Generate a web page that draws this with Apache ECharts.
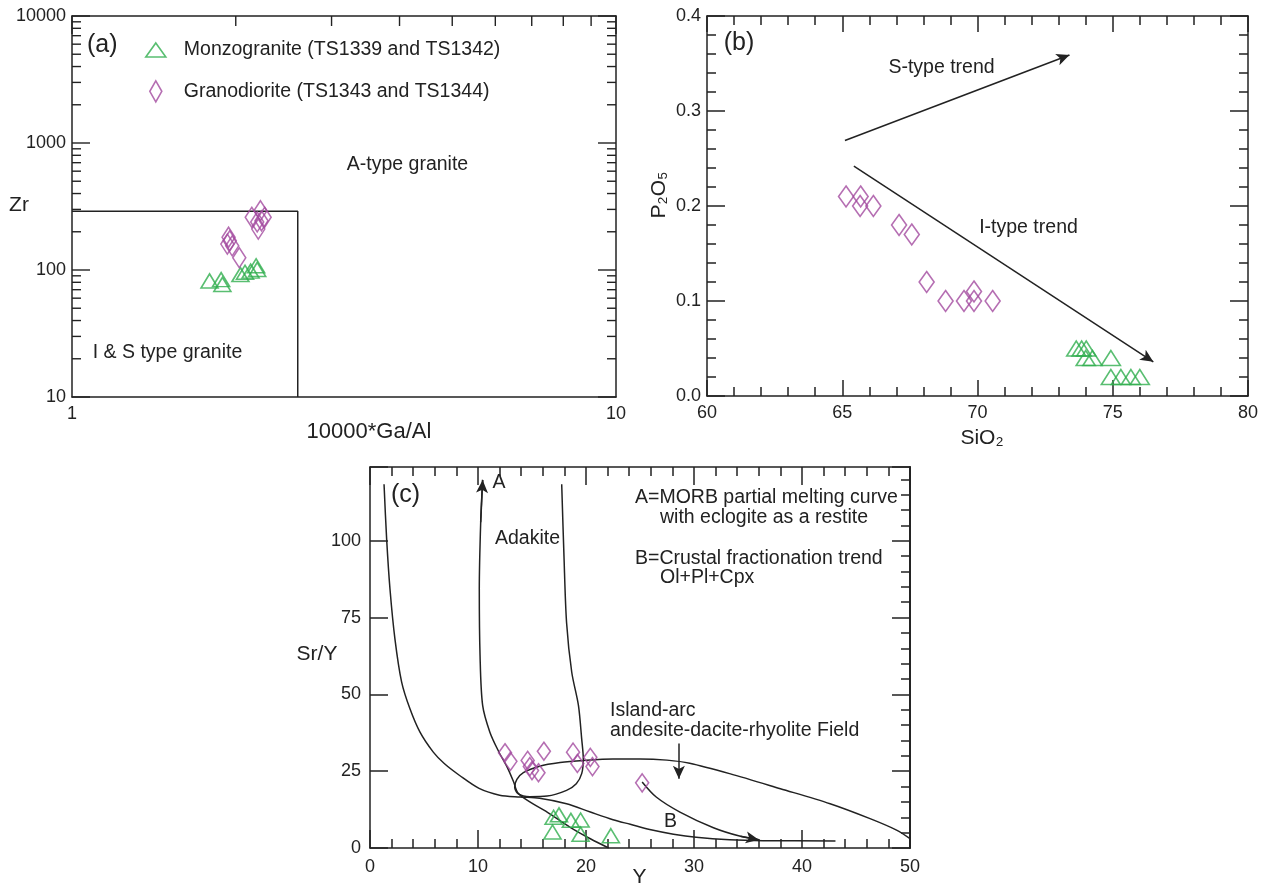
<!DOCTYPE html>
<html><head><meta charset="utf-8">
<script src="https://cdn.jsdelivr.net/npm/echarts@6/dist/echarts.min.js"></script>
<style>html,body{margin:0;padding:0;background:#fff}#chart{width:1269px;height:885px}</style>
</head><body><div id="chart"></div>
<script>
// ---------- Panel (a): Zr vs 10000*Ga/Al ----------
const gaAlMonzo = [1.79, 1.88, 1.89, 2.04, 2.08, 2.13, 2.18, 2.19];
const zrMonzo   = [82, 84, 77, 92, 96, 98, 108, 101];
const gaAlGrano = [1.94, 1.95, 1.93, 1.97, 2.03, 2.14, 2.22, 2.23, 2.20, 2.26, 2.19];
const zrGrano   = [181, 170, 160, 155, 125, 260, 293, 244, 210, 260, 239];
const boxGaAl = [1, 2.6, 2.6];
const boxZr   = [290, 290, 10];
const ticksGaAl = [1, 2, 3, 4, 5, 6, 7, 8, 9, 10];
const ticksZr = [10,20,30,40,50,60,70,80,90,100,200,300,400,500,600,700,800,900,1000,2000,3000,4000,5000,6000,7000,8000,9000,10000];

// ---------- Panel (b): P2O5 vs SiO2 ----------
const sio2Monzo = [73.65, 73.85, 74.02, 74.0, 74.25, 74.93, 74.93, 75.3, 75.67, 76.0];
const p2o5Monzo = [0.05, 0.05, 0.05, 0.04, 0.04, 0.04, 0.02, 0.02, 0.02, 0.02];
const sio2Grano = [65.14, 65.68, 65.66, 66.15, 67.1, 67.57, 68.12, 68.82, 69.5, 69.87, 69.87, 70.56];
const p2o5Grano = [0.21, 0.21, 0.20, 0.20, 0.18, 0.17, 0.12, 0.10, 0.10, 0.11, 0.10, 0.10];
const sTrend = [[65.1, 0.269], [73.4, 0.359]];
const iTrend = [[65.43, 0.242], [76.5, 0.036]];

// ---------- Panel (c): Sr/Y vs Y ----------
const yMonzo   = [17.0, 17.5, 18.6, 19.5, 16.9, 19.5, 22.3];
const srYMonzo = [10.0, 10.8, 9.0, 9.1, 5.2, 4.5, 4.0];
const yGrano   = [12.5, 13.0, 14.6, 14.8, 15.0, 15.6, 16.1, 18.8, 19.2, 20.4, 20.6, 25.2];
const srYGrano = [31.0, 28.2, 28.5, 26.5, 25.2, 24.5, 31.5, 31.2, 27.5, 29.5, 26.5, 21.2];
const curveLeft = [[1.3,118.4],[1.54,100.6],[1.85,84.3],[2.31,68],[2.93,54],[3.7,45.3],[4.63,37.7],[5.86,31.2],[6.9,27.4],[8.3,23.6],[10.1,19.4],[12.0,17.2],[13.9,16.6],[15.7,16.2],[18.2,14.4],[20.4,11.7],[22.5,9.2],[24.1,7.7],[25.9,6.0],[28.1,4.5],[30.2,3.5],[33.3,2.7],[36.4,2.4],[43.1,2.3]];
const curveA = [[22.1,0],[20.4,3.0],[18.5,6.8],[16.4,11.7],[14.8,15.0],[13.7,17.9],[13.3,21.5],[12.7,26.3],[11.9,31.5],[11.1,37.7],[10.43,46.4],[10.19,62.6],[10.12,84.3],[10.25,106],[10.43,119.8]];
const curveRight = [[17.75,118.4],[17.96,95.1],[18.2,73.4],[18.68,57.2],[19.3,46.4],[19.6,35.5],[19.75,29],[19.6,24.2],[19.1,20.9],[18.2,18.75],[16.4,16.9],[14.8,16.7],[13.7,17.7],[13.4,19.8],[13.6,22.3],[14.2,24.5],[15.7,26.6],[17.6,27.8],[19.75,28.5],[22.5,29.0],[25.0,29.0],[27.5,28.6],[29.6,27.6],[33.3,24.2],[38.0,19.3],[42.6,14.4],[46.3,9.55],[48.8,5.75],[50,3.05]];
const curveB = [[25.2,21.5],[26.5,16.6],[28.7,11.7],[31.8,6.6],[34.3,3.8],[36.0,2.7]];
const arcArrow = [[28.6,34],[28.6,22.5]];

const NAME_MZ = 'Monzogranite (TS1339 and TS1342)';
const NAME_GD = 'Granodiorite (TS1343 and TS1344)';
const GREEN = '#2fae4e';
const PURPLE = '#a24a9f';
const INK = '#222';
const FONT = "'Liberation Sans', Arial, Helvetica, sans-serif";

const zip = (a, b) => a.map((v, i) => [v, b[i]]);
const lastSeg = c => [c[c.length - 2], c[c.length - 1]];
const lineStyle = { color: INK, width: 1.5 };
const labelStyle = { fontSize: 18, color: INK, fontFamily: FONT };

function valAxis(o) {
  return Object.assign({
    type: 'value',
    axisLine: { show: true, onZero: false, lineStyle },
    axisTick: { show: true, inside: true, length: 18, lineStyle },
    minorTick: { show: true, splitNumber: 5, length: 9, lineStyle },
    splitLine: { show: false }, minorSplitLine: { show: false },
    axisLabel: Object.assign({ margin: 8 }, labelStyle)
  }, o);
}

const chart = echarts.init(document.getElementById('chart'), null, { renderer: 'canvas' });

const isDecade = v => Math.abs(Math.log10(v) - Math.round(Math.log10(v))) < 1e-9;
const scatterStyle = c => ({ color: 'rgba(0,0,0,0)', borderColor: c, borderWidth: 1.6 });

const texts = [
  ['(a)', 87, 45, 'left', 25],
  ['A-type granite', 407.5, 165, 'center', 19.5],
  ['I & S type granite', 167.5, 353, 'center', 19.5],
  ['Zr', 19, 205, 'center', 21],
  ['10000*Ga/Al', 369, 432, 'center', 22],
  ['(b)', 739, 43, 'center', 25],
  ['S-type trend', 941.5, 68, 'center', 19.5],
  ['I-type trend', 1028.5, 228, 'center', 19.5],
  ['SiO\u2082', 982, 438, 'center', 21],
  ['(c)', 405.6, 495, 'center', 25],
  ['A', 499, 483, 'center', 19.5],
  ['Adakite', 527.5, 539, 'center', 19.5],
  ['A=MORB partial melting curve', 635, 498, 'left', 19.5],
  ['with eclogite as a restite', 660, 518, 'left', 19.5],
  ['B=Crustal fractionation trend', 635, 559, 'left', 19.5],
  ['Ol+Pl+Cpx', 660, 578, 'left', 19.5],
  ['Island-arc', 610, 711, 'left', 19.5],
  ['andesite-dacite-rhyolite Field', 610, 731, 'left', 19.5],
  ['B', 670.6, 822, 'center', 19.5],
  ['Sr/Y', 317, 654, 'center', 21],
  ['Y', 639.4, 877, 'center', 21]
];
const graphic = texts.map(t => ({
  type: 'text', x: t[1], y: t[2], silent: true,
  style: { text: t[0], fill: INK, font: t[4] + 'px ' + FONT, textAlign: t[3], textVerticalAlign: 'middle' }
}));
graphic.push({
  type: 'text', x: 659, y: 195, rotation: Math.PI / 2, silent: true,
  style: { text: 'P\u2082O\u2085', fill: INK, font: '21px ' + FONT, textAlign: 'center', textVerticalAlign: 'middle' }
});

const arrowSize = [[1, 1], [9, 13]];
const arrowLines = (xi, yi, segs) => ({
  type: 'lines', coordinateSystem: 'cartesian2d', xAxisIndex: xi, yAxisIndex: yi, silent: true,
  data: segs.map(s => ({ coords: s })), symbol: ['none', 'arrow'], symbolSize: arrowSize,
  lineStyle: { color: INK, width: 1.5, opacity: 1, curveness: 0 }, z: 4
});
const curve = (data) => ({
  type: 'line', xAxisIndex: 4, yAxisIndex: 4, data, symbol: 'none', smooth: 0.3,
  lineStyle: { color: INK, width: 1.5 }, silent: true
});
const logLabel = v => String(Math.round(v));

const option = {
  backgroundColor: '#fff',
  animation: false,
  graphic,
  legend: [
    { data: [{ name: NAME_MZ, icon: 'triangle', itemStyle: scatterStyle(GREEN) }],
      left: 145, top: 39, padding: 0, itemWidth: 20, itemHeight: 14, selectedMode: false,
      textStyle: { fontSize: 19.5, fontFamily: FONT, color: INK, lineHeight: 22, padding: [0, 0, 0, 13] } },
    { data: [{ name: NAME_GD, icon: 'diamond', itemStyle: scatterStyle(PURPLE) }],
      left: 149, top: 80, padding: 0, itemWidth: 12, itemHeight: 21, selectedMode: false,
      textStyle: { fontSize: 19.5, fontFamily: FONT, color: INK, lineHeight: 22, padding: [0, 0, 0, 17] } }
  ],
  grid: [
    { left: 72, top: 16, width: 544, height: 381 },
    { left: 707, top: 16, width: 541, height: 380 },
    { left: 370, top: 467, width: 540, height: 381 }
  ],
  xAxis: [
    { type: 'log', logBase: 10, gridIndex: 0, min: 1, max: 10,
      axisLine: { show: true, onZero: false, lineStyle }, axisTick: { show: false }, splitLine: { show: false },
      axisLabel: Object.assign({ margin: 8, formatter: logLabel }, labelStyle) },
    { type: 'log', logBase: 10, gridIndex: 0, min: 1, max: 10, position: 'top',
      axisLine: { show: true, onZero: false, lineStyle }, axisTick: { show: false }, splitLine: { show: false },
      axisLabel: { show: false } },
    valAxis({ gridIndex: 1, min: 60, max: 80, interval: 5, axisTick: { show: true, inside: true, length: 16, lineStyle } }),
    valAxis({ gridIndex: 1, min: 60, max: 80, interval: 5, position: 'top', axisLabel: { show: false },
      axisTick: { show: true, inside: true, length: 16, lineStyle } }),
    valAxis({ gridIndex: 2, min: 0, max: 50, interval: 10, axisLabel: Object.assign({ margin: 10 }, labelStyle) }),
    valAxis({ gridIndex: 2, min: 0, max: 50, interval: 10, position: 'top', axisLabel: { show: false } })
  ],
  yAxis: [
    { type: 'log', logBase: 10, gridIndex: 0, min: 10, max: 10000,
      axisLine: { show: true, onZero: false, lineStyle }, axisTick: { show: false }, splitLine: { show: false },
      axisLabel: Object.assign({ margin: 6, formatter: logLabel }, labelStyle) },
    { type: 'log', logBase: 10, gridIndex: 0, min: 10, max: 10000, position: 'right',
      axisLine: { show: true, onZero: false, lineStyle }, axisTick: { show: false }, splitLine: { show: false },
      axisLabel: { show: false } },
    valAxis({ gridIndex: 1, min: 0, max: 0.4, interval: 0.1,
      axisLabel: Object.assign({ margin: 6, formatter: v => v.toFixed(1) }, labelStyle) }),
    valAxis({ gridIndex: 1, min: 0, max: 0.4, interval: 0.1, position: 'right', axisLabel: { show: false } }),
    valAxis({ gridIndex: 2, min: 0, max: 124, interval: 25, minorTick: { show: false },
      axisLabel: Object.assign({ margin: 9, formatter: v => (v % 25 === 0 ? String(v) : '') }, labelStyle) }),
    valAxis({ gridIndex: 2, min: 0, max: 124, interval: 5, minorTick: { show: false },
      axisTick: { show: true, inside: true, length: 9, lineStyle }, axisLabel: { show: false } }),
    valAxis({ gridIndex: 2, min: 0, max: 124, interval: 25, position: 'right', minorTick: { show: false },
      axisLabel: { show: false } }),
    valAxis({ gridIndex: 2, min: 0, max: 124, interval: 5, position: 'right', minorTick: { show: false },
      axisTick: { show: true, inside: true, length: 9, lineStyle }, axisLabel: { show: false } })
  ],
  series: [
    // Panel (a)
    { type: 'custom', xAxisIndex: 0, yAxisIndex: 0, silent: true, clip: false, z: 5,
      data: ticksGaAl.map(v => [v, 10, 0]).concat(ticksZr.map(v => [1, v, 1])),
      renderItem(params, api) {
        const cs = params.coordSys;
        const st = { stroke: INK, lineWidth: 1.4 };
        if (api.value(2) === 0) {
          const v = api.value(0);
          const x = api.coord([v, 10])[0];
          const L = isDecade(v) ? 18 : 10;
          return { type: 'line', shape: { x1: x, y1: cs.y, x2: x, y2: cs.y + L }, style: st };
        }
        const v = api.value(1);
        const y = api.coord([1, v])[1];
        const L = isDecade(v) ? 18 : 9;
        return { type: 'group', children: [
          { type: 'line', shape: { x1: cs.x, y1: y, x2: cs.x + L, y2: y }, style: st },
          { type: 'line', shape: { x1: cs.x + cs.width - L, y1: y, x2: cs.x + cs.width, y2: y }, style: st }
        ] };
      } },
    { type: 'line', xAxisIndex: 0, yAxisIndex: 0, data: zip(boxGaAl, boxZr), symbol: 'none',
      lineStyle: { color: INK, width: 1.5 }, silent: true },
    { name: NAME_MZ, type: 'scatter', xAxisIndex: 0, yAxisIndex: 0, data: zip(gaAlMonzo, zrMonzo),
      symbol: 'triangle', symbolSize: [17, 14], itemStyle: scatterStyle(GREEN), z: 3 },
    { name: NAME_GD, type: 'scatter', xAxisIndex: 0, yAxisIndex: 0, data: zip(gaAlGrano, zrGrano),
      symbol: 'diamond', symbolSize: [13, 20], itemStyle: scatterStyle(PURPLE), z: 3 },
    // Panel (b)
    arrowLines(2, 2, [sTrend, iTrend]),
    { name: NAME_MZ, type: 'scatter', xAxisIndex: 2, yAxisIndex: 2, data: zip(sio2Monzo, p2o5Monzo),
      symbol: 'triangle', symbolSize: [19, 15], itemStyle: scatterStyle(GREEN), z: 3 },
    { name: NAME_GD, type: 'scatter', xAxisIndex: 2, yAxisIndex: 2, data: zip(sio2Grano, p2o5Grano),
      symbol: 'diamond', symbolSize: [15, 21], itemStyle: scatterStyle(PURPLE), z: 3 },
    // Panel (c)
    curve(curveLeft),
    curve(curveA),
    curve(curveRight),
    curve(curveB),
    arrowLines(4, 4, [arcArrow, lastSeg(curveA), lastSeg(curveB)]),
    { name: NAME_MZ, type: 'scatter', xAxisIndex: 4, yAxisIndex: 4, data: zip(yMonzo, srYMonzo),
      symbol: 'triangle', symbolSize: [17, 14], itemStyle: scatterStyle(GREEN), z: 3 },
    { name: NAME_GD, type: 'scatter', xAxisIndex: 4, yAxisIndex: 4, data: zip(yGrano, srYGrano),
      symbol: 'diamond', symbolSize: [13, 18], itemStyle: scatterStyle(PURPLE), z: 3 }
  ]
};
chart.setOption(option);
</script>
</body></html>
